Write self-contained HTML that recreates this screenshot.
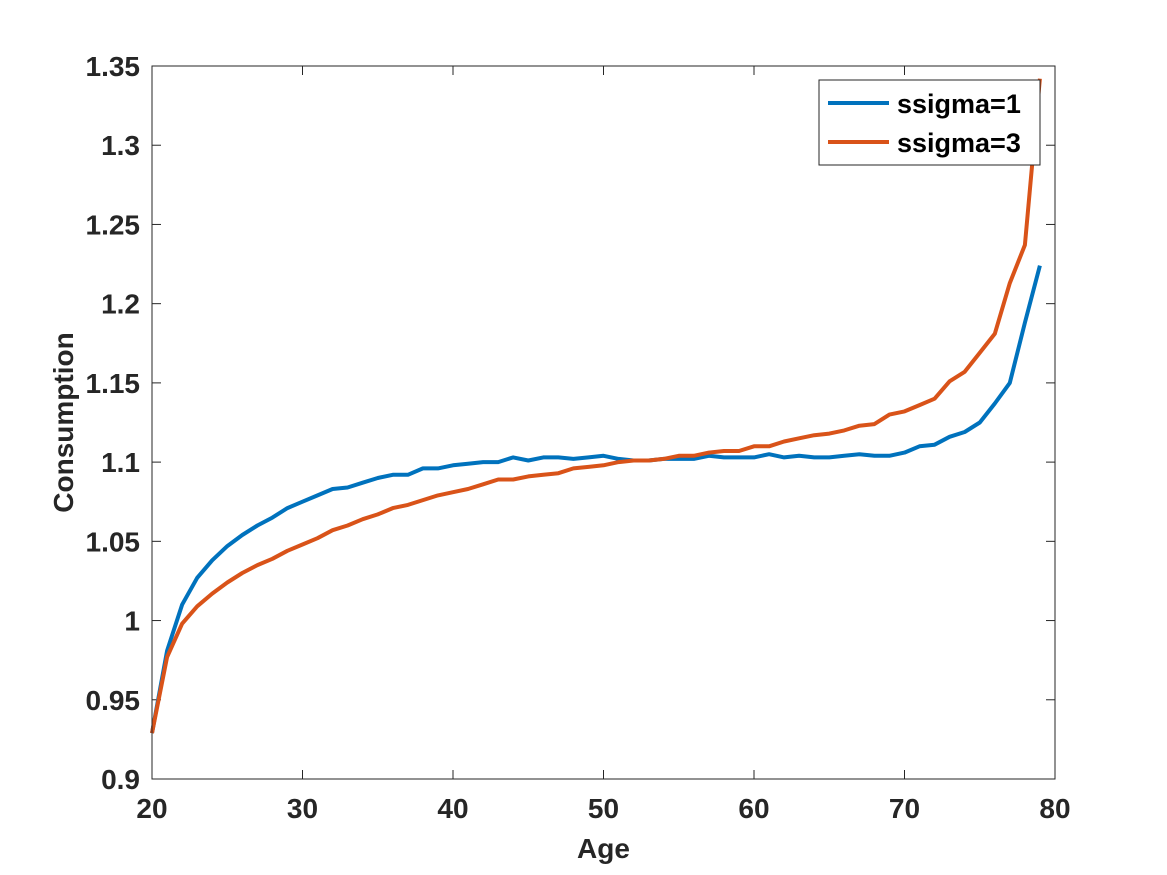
<!DOCTYPE html>
<html><head><meta charset="utf-8"><style>
body{margin:0;background:#fff;}
svg{display:block;font-family:"Liberation Sans",Arial,sans-serif;font-weight:bold;}
</style></head><body>
<svg id="chart" width="1167" height="875" viewBox="0 0 1167 875">
<rect width="1167" height="875" fill="#fff"/>
<g id="plot"></g>
</svg>
<script>
const ages=[];for(let a=20;a<=79;a++)ages.push(a);
const sigma1=[0.929,0.981,1.010,1.027,1.038,1.047,1.054,1.060,1.065,1.071,1.075,1.079,1.083,1.084,1.087,1.090,1.092,1.092,1.096,1.096,1.098,1.099,1.100,1.100,1.103,1.101,1.103,1.103,1.102,1.103,1.104,1.102,1.101,1.101,1.102,1.102,1.102,1.104,1.103,1.103,1.103,1.105,1.103,1.104,1.103,1.103,1.104,1.105,1.104,1.104,1.106,1.110,1.111,1.116,1.119,1.125,1.137,1.150,1.188,1.224];
const sigma3=[0.929,0.977,0.998,1.009,1.017,1.024,1.030,1.035,1.039,1.044,1.048,1.052,1.057,1.060,1.064,1.067,1.071,1.073,1.076,1.079,1.081,1.083,1.086,1.089,1.089,1.091,1.092,1.093,1.096,1.097,1.098,1.100,1.101,1.101,1.102,1.104,1.104,1.106,1.107,1.107,1.110,1.110,1.113,1.115,1.117,1.118,1.120,1.123,1.124,1.130,1.132,1.136,1.140,1.151,1.157,1.169,1.181,1.213,1.237,1.342];
const xTicks=[20,30,40,50,60,70,80];
const yTicks=[0.9,0.95,1,1.05,1.1,1.15,1.2,1.25,1.3,1.35];
const yTickLabels=["0.9","0.95","1","1.05","1.1","1.15","1.2","1.25","1.3","1.35"];
const L=152,R=1055,T=66,B=779;
const xs=v=>L+(v-20)/60*(R-L);
const ys=v=>B-(v-0.9)/0.45*(B-T);
const NS="http://www.w3.org/2000/svg";
const g=document.getElementById('plot');
function mk(t,attrs,txt){const e=document.createElementNS(NS,t);for(const k in attrs)e.setAttribute(k,attrs[k]);if(txt!==undefined)e.textContent=txt;g.appendChild(e);return e;}
let e;
xTicks.forEach(v=>{
 e=mk('line',{x1:xs(v),x2:xs(v),y1:B,y2:B-9,stroke:'#262626','stroke-width':1});
 
 
 e=mk('line',{x1:xs(v),x2:xs(v),y1:T,y2:T+9,stroke:'#262626','stroke-width':1});
 
 
 e=mk('text',{x:xs(v),y:B+39,'text-anchor':'middle','font-size':28,fill:'#262626'},String(v));
 
 
});
yTicks.forEach((v,i)=>{
 e=mk('line',{x1:L,x2:L+9,y1:ys(v),y2:ys(v),stroke:'#262626','stroke-width':1});
 
 
 e=mk('line',{x1:R,x2:R-9,y1:ys(v),y2:ys(v),stroke:'#262626','stroke-width':1});
 
 
 e=mk('text',{x:L-12,y:ys(v)+10,'text-anchor':'end','font-size':28,fill:'#262626'},yTickLabels[i]);
 
 
});
function series(arr,color,name){
 const d=arr.map((v,i)=>(i?'L':'M')+xs(ages[i]).toFixed(1)+','+ys(v).toFixed(1)).join('');
 e=mk('path',{d:d,fill:'none',stroke:color,'stroke-width':4,'stroke-linejoin':'round'});
 
 
}
series(sigma1,'#0072BD','line-ssigma-1');
series(sigma3,'#D95319','line-ssigma-3');
e=mk('rect',{x:L,y:T,width:R-L,height:B-T,fill:'none',stroke:'#262626','stroke-width':1});


e=mk('text',{x:(L+R)/2,y:858,'text-anchor':'middle','font-size':28,fill:'#262626'},'Age');


e=mk('text',{x:0,y:0,transform:'translate(73,'+((T+B)/2)+') rotate(-90)','text-anchor':'middle','font-size':28,fill:'#262626'},'Consumption');


e=mk('rect',{x:819,y:80,width:221,height:85,fill:'#fff',stroke:'#262626','stroke-width':1});


e=mk('line',{x1:828,x2:889,y1:103,y2:103,stroke:'#0072BD','stroke-width':4});


e=mk('text',{x:897,y:113,'font-size':27,fill:'#000'},'ssigma=1');


e=mk('line',{x1:828,x2:889,y1:142,y2:142,stroke:'#D95319','stroke-width':4});


e=mk('text',{x:897,y:152,'font-size':27,fill:'#000'},'ssigma=3');


</script>
</body></html>
